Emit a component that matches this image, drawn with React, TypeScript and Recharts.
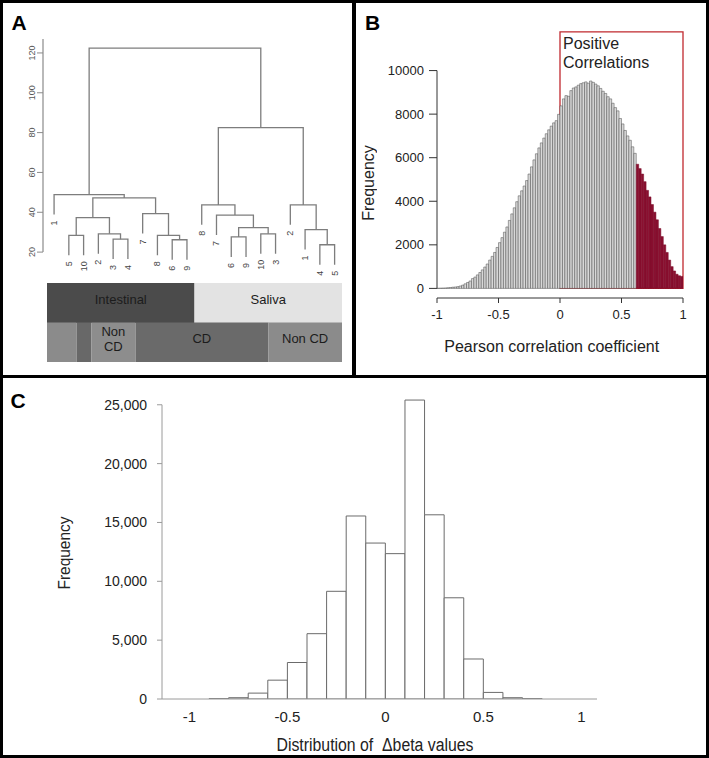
import React from 'react';
import {
  ComposedChart,
  BarChart,
  Bar,
  Line,
  Scatter,
  XAxis,
  YAxis,
  ReferenceLine,
  ReferenceArea,
  Cell,
  LabelList,
} from 'recharts';

const FONT = "'Liberation Sans', Arial, Helvetica, sans-serif";

// ---------------- Panel A : dendrogram ----------------
const leafLabels = ['1', '5', '10', '2', '3', '4', '7', '8', '6', '9', '8', '7', '6', '9', '10', '3', '2', '1', '4', '5'];
// merge children: negative = leaf number (1-based), positive = earlier merge number (1-based)
const mergeLeft = [-2, -5, -4, 1, -9, -8, -7, 4, -1, -13, -15, 10, -12, -11, -19, -18, -17, 14, 9];
const mergeRight = [-3, -6, 2, 3, -10, 5, 6, 7, 8, -14, -16, 11, 12, 13, -20, 15, 16, 17, 18];
const mergeHeight = [28.4, 26.5, 29.2, 37.3, 26.2, 28.4, 39.3, 47.2, 48.9, 27.6, 29.2, 32.3, 38.6, 43.7, 23.7, 31.3, 43.7, 82.5, 122.4];
const heightTicks = [20, 40, 60, 80, 100, 120];
const HANG = 10;

const tissueNames = ['Intestinal', 'Saliva'];
const tissueSpans = [10, 10];
const tissueColors = ['#4b4b4b', '#e3e3e3'];
const statusNames = ['', '', 'Non\nCD', 'CD', 'Non CD'];
const statusSpans = [2, 1, 3, 9, 5];
const statusColors = ['#8b8b8b', '#686868', '#8d8d8d', '#6a6a6a', '#8b8b8b'];

// ---------------- Panel B : Pearson histogram ----------------
const pearsonFreq = [
  5, 10, 15, 20, 30, 40, 55, 65, 80, 110,
  150, 210, 270, 340, 450, 520, 620, 730, 850, 980,
  1120, 1300, 1470, 1650, 1880, 2100, 2330, 2580, 2820, 3120,
  3420, 3700, 3980, 4250, 4480, 4700, 4950, 5250, 5580, 5900,
  6180, 6450, 6680, 6900, 7100, 7280, 7450, 7600, 7700, 7990,
  8380, 8700, 8850, 8820, 9080, 9200, 9250, 9330, 9400, 9440,
  9480, 9420, 9520, 9460, 9380, 9300, 9180, 9050, 8950, 8800,
  8700, 8500, 8300, 8150, 7800, 7550, 7250, 7000, 6800, 6500,
  6200, 5700, 5500, 5250, 4900, 4500, 4200, 3850, 3500, 3150,
  2750, 2380, 2000, 1650, 1300, 1000, 800, 650, 580, 550,
];
const pearsonBinStart = -1;
const pearsonBinWidth = 0.02;
const pearsonHighlightFrom = 0.62;
const pearsonTicks = [-1, -0.5, 0, 0.5, 1];
const pearsonFreqTicks = [0, 2000, 4000, 6000, 8000, 10000];
const B_DOMAIN: [number, number] = [-1, 1];

// ---------------- Panel C : delta beta histogram ----------------
const deltaFreq = [0, 0, 20, 110, 500, 1600, 3100, 5550, 9150, 15550, 13250, 12350, 25400, 15650, 8600, 3400, 560, 110, 20, 0, 0];
const deltaBinStart = -1.1;
const deltaBinWidth = 0.1;
const deltaTicks = [-1, -0.5, 0, 0.5, 1];
const deltaFreqTicks = [0, 5000, 10000, 15000, 20000, 25000];
const C_DOMAIN: [number, number] = [-1.14, 1.08];

// ---------- derived structures ----------
const nodeX: number[] = [];
const leafEnd: number[] = leafLabels.map(() => 0);
const links: { x: number; y: number }[][] = [];
mergeHeight.forEach((h, m) => {
  const ends = [mergeLeft[m], mergeRight[m]].map((c) => {
    if (c < 0) {
      leafEnd[-c - 1] = h - HANG;
      return { x: -c, y: h - HANG };
    }
    return { x: nodeX[c - 1], y: mergeHeight[c - 1] };
  });
  nodeX[m] = (ends[0].x + ends[1].x) / 2;
  links.push([ends[0], { x: ends[0].x, y: h }, { x: ends[1].x, y: h }, ends[1]]);
});
const leafPoints = leafLabels.map((label, i) => ({ x: i + 1, y: leafEnd[i], label }));

const rowData: any[] = [
  { row: 'Tissue', offset: -4 },
  { row: 'Status', offset: 1 },
];
tissueSpans.forEach((s, i) => {
  rowData[0][`s${i}`] = s;
  rowData[0][`l${i}`] = tissueNames[i];
});
statusSpans.forEach((s, i) => {
  rowData[1][`s${i}`] = s;
  rowData[1][`l${i}`] = statusNames[i];
});
const rowColors = [tissueColors, statusColors];

const pearsonData = pearsonFreq.map((freq, i) => ({
  lower: pearsonBinStart + i * pearsonBinWidth,
  mid: pearsonBinStart + (i + 0.5) * pearsonBinWidth,
  freq,
}));

const deltaData = deltaFreq.map((freq, i) => ({
  mid: deltaBinStart + (i + 0.5) * deltaBinWidth,
  freq,
}));

// ---------- custom renderers ----------
const HeightTick = (props: any) => {
  const { x, y, payload } = props;
  return (
    <g opacity={0.99}>
      <text
        x={x}
        y={y}
        transform={`rotate(-90 ${x} ${y})`}
        textAnchor="middle"
        fontSize={9}
        fill="#555"
        fontFamily={FONT}
      >
        {payload.value}
      </text>
    </g>
  );
};

const LeafLabel = (props: any) => {
  const { cx, cy, payload } = props;
  if (cx == null || cy == null) return null;
  const ay = cy + 6;
  return (
    <g opacity={0.99}>
      <text
        x={cx}
        y={ay}
        transform={`rotate(-90 ${cx} ${ay})`}
        textAnchor="end"
        dominantBaseline="central"
        fontSize={9}
        fill="#444"
        fontFamily={FONT}
      >
        {payload.label}
      </text>
    </g>
  );
};

const SegLabel = (props: any) => {
  const { x, y, width, height, value, index } = props;
  if (!value) return null;
  const lines = String(value).split('\n');
  const cx = x + width / 2;
  const cy = y + height / 2 + (rowData[index]?.offset ?? 0);
  const fs = 13;
  return (
    <text textAnchor="middle" fontSize={fs} fill="#1c1c1c" fontFamily={FONT}>
      {lines.map((ln, i) => (
        <tspan key={i} x={cx} y={cy + (i - (lines.length - 1) / 2) * 15 + fs * 0.35}>
          {ln}
        </tspan>
      ))}
    </text>
  );
};

// ---------- geometry ----------
const B_WIDTH = 354;
const B_YAXIS_W = 82;
const B_RIGHT = 26;
const bPlotW = B_WIDTH - B_YAXIS_W - B_RIGHT;
const bBarSize = ((bPlotW / (B_DOMAIN[1] - B_DOMAIN[0])) * pearsonBinWidth) * 0.999;

const C_LEFT = 162;
const C_RIGHT_MARGIN = 112;
const C_WIDTH = 709;
const cPlotW = C_WIDTH - C_LEFT - C_RIGHT_MARGIN;
const cBarSize = ((cPlotW / (C_DOMAIN[1] - C_DOMAIN[0])) * deltaBinWidth) * 0.999;

export default function App() {
  return (
    <div
      style={{
        position: 'absolute',
        left: 0,
        top: 0,
        width: 709,
        height: 758,
        background: '#fff',
        overflow: 'hidden',
        fontFamily: FONT,
      }}
    >
      {/* Panel A dendrogram */}
      <div style={{ position: 'absolute', left: 0, top: 0 }}>
        <ComposedChart width={352} height={376} margin={{ top: 39, right: 10, bottom: 100, left: 0 }}>
          <XAxis type="number" dataKey="x" domain={[0.25, 20.5]} hide height={0} />
          <YAxis
            type="number"
            domain={[8, 127]}
            ticks={heightTicks}
            width={43}
            axisLine={false}
            tickLine={{ stroke: '#8a8a8a' }}
            tickSize={6}
            tick={<HeightTick />}
            interval={0}
          />
          <ReferenceLine
            segment={[
              { x: 0.25, y: 20 },
              { x: 0.25, y: 127 },
            ]}
            stroke="#8a8a8a"
            strokeWidth={1.2}
            ifOverflow="visible"
          />
          {links.map((pts, i) => (
            <Line
              key={i}
              data={pts}
              dataKey="y"
              type="linear"
              stroke="#7d7d7d"
              strokeWidth={1.3}
              dot={false}
              activeDot={false}
              isAnimationActive={false}
            />
          ))}
          <Scatter data={leafPoints} dataKey="y" shape={LeafLabel} isAnimationActive={false} />
        </ComposedChart>
      </div>

      {/* Panel A group bars */}
      <div style={{ position: 'absolute', left: 0, top: 283 }}>
        <BarChart
          width={352}
          height={79}
          data={rowData}
          layout="vertical"
          margin={{ top: 0, right: 10, bottom: 0, left: 47 }}
          barCategoryGap={0}
          barGap={0}
        >
          <XAxis type="number" domain={[0, 20]} hide height={0} />
          <YAxis type="category" dataKey="row" hide width={0} />
          {[0, 1, 2, 3, 4].map((k) => (
            <Bar key={k} dataKey={`s${k}`} stackId="g" isAnimationActive={false}>
              {rowData.map((_, r) => (
                <Cell key={r} fill={rowColors[r][k] || '#000'} />
              ))}
              <LabelList dataKey={`l${k}`} content={SegLabel} />
            </Bar>
          ))}
        </BarChart>
      </div>

      {/* Panel B */}
      <div style={{ position: 'absolute', left: 355, top: 0 }}>
        <ComposedChart
          width={B_WIDTH}
          height={376}
          data={pearsonData}
          margin={{ top: 27, right: B_RIGHT, bottom: 48, left: 0 }}
          barGap={0}
        >
          <XAxis
            dataKey="mid"
            type="number"
            domain={B_DOMAIN}
            allowDataOverflow
            ticks={pearsonTicks}
            interval={0}
            height={30}
            tickSize={5}
            tickMargin={7}
            axisLine={{ stroke: '#333' }}
            tickLine={{ stroke: '#333' }}
            tick={{ fontSize: 13, fill: '#222', fontFamily: FONT }}
          />
          <YAxis
            type="number"
            domain={[-441, 12000]}
            allowDataOverflow
            ticks={pearsonFreqTicks}
            interval={0}
            width={B_YAXIS_W}
            axisLine={false}
            tickSize={8}
            tickMargin={5}
            tickLine={{ stroke: '#333' }}
            tick={{ fontSize: 13, fill: '#222', fontFamily: FONT }}
          />
          <Bar dataKey="freq" barSize={bBarSize} isAnimationActive={false} strokeWidth={0.5}>
            {pearsonData.map((d, i) => (
              <Cell
                key={i}
                fill={d.lower >= pearsonHighlightFrom - 1e-9 ? '#8a1030' : '#d8d8d8'}
                stroke={d.lower >= pearsonHighlightFrom - 1e-9 ? '#7a0a28' : '#4a4a4a'}
              />
            ))}
          </Bar>
          <ReferenceLine
            segment={[
              { x: -1, y: 0 },
              { x: -1, y: 10000 },
            ]}
            stroke="#333"
            ifOverflow="visible"
          />
          <ReferenceArea
            x1={0}
            x2={1}
            y1={0}
            y2={11780}
            fill="none"
            fillOpacity={0}
            stroke="#c0282e"
            strokeWidth={1.3}
            ifOverflow="visible"
          />
        </ComposedChart>
      </div>

      {/* Panel C */}
      <div style={{ position: 'absolute', left: 0, top: 378 }}>
        <ComposedChart
          width={C_WIDTH}
          height={380}
          data={deltaData}
          margin={{ top: 15, right: C_RIGHT_MARGIN, bottom: 29, left: 0 }}
          barGap={0}
        >
          <XAxis
            dataKey="mid"
            type="number"
            domain={C_DOMAIN}
            allowDataOverflow
            ticks={deltaTicks}
            interval={0}
            height={30}
            tickSize={0}
            tickMargin={12}
            tickLine={false}
            axisLine={{ stroke: '#9a9a9a' }}
            tick={{ fontSize: 15, fill: '#222', fontFamily: FONT }}
          />
          <YAxis
            type="number"
            domain={[0, 26000]}
            allowDataOverflow
            ticks={deltaFreqTicks}
            interval={0}
            width={C_LEFT}
            axisLine={false}
            tickSize={5}
            tickMargin={10}
            tickLine={{ stroke: '#9a9a9a' }}
            tickFormatter={(v: number) => v.toLocaleString('en-US')}
            tick={{ fontSize: 14, fill: '#222', fontFamily: FONT }}
          />
          <Bar dataKey="freq" barSize={cBarSize} fill="#fff" stroke="#6b6b6b" strokeWidth={1} isAnimationActive={false} />
          <ReferenceLine
            segment={[
              { x: C_DOMAIN[0], y: 0 },
              { x: C_DOMAIN[0], y: 25000 },
            ]}
            stroke="#9a9a9a"
            ifOverflow="visible"
          />
        </ComposedChart>
      </div>

      {/* Text overlay */}
      <svg
        width={709}
        height={758}
        style={{ position: 'absolute', left: 0, top: 0, pointerEvents: 'none' }}
        fontFamily={FONT}
      >
        <text x={11.5} y={29.5} fontSize={21} fontWeight="bold" fill="#000">A</text>
        <text x={365} y={29.5} fontSize={21} fontWeight="bold" fill="#000">B</text>
        <text x={10.5} y={408} fontSize={21} fontWeight="bold" fill="#000">C</text>

        <text x={563} y={48.5} fontSize={16} fill="#222">Positive</text>
        <text x={563} y={67.5} fontSize={16} fill="#222">Correlations</text>
        <g opacity={0.99}>
          <text
            x={368}
            y={183}
            transform="rotate(-90 368 183)"
            textAnchor="middle"
            dominantBaseline="central"
            fontSize={16}
            fill="#222"
          >
            Frequency
          </text>
        </g>
        <text x={551.7} y={352} textAnchor="middle" fontSize={16} fill="#222">
          Pearson correlation coefficient
        </text>

        <g opacity={0.99}>
          <text
            x={64}
            y={553}
            transform="rotate(-90 64 553)"
            textAnchor="middle"
            dominantBaseline="central"
            fontSize={17}
            fill="#222"
            textLength={73}
            lengthAdjust="spacingAndGlyphs"
          >
            Frequency
          </text>
        </g>
        <text
          x={375}
          y={751}
          textAnchor="middle"
          fontSize={18}
          fill="#222"
          textLength={197}
          lengthAdjust="spacingAndGlyphs"
        >
          {'Distribution of \u00A0\u0394beta values'}
        </text>
      </svg>

      {/* Panel frames */}
      <div
        style={{
          position: 'absolute',
          left: 0,
          top: 0,
          width: 709,
          height: 758,
          border: '3px solid #000',
          boxSizing: 'border-box',
          pointerEvents: 'none',
        }}
      />
      <div style={{ position: 'absolute', left: 352, top: 0, width: 4, height: 378, background: '#000' }} />
      <div style={{ position: 'absolute', left: 0, top: 375, width: 709, height: 3, background: '#000' }} />
    </div>
  );
}
